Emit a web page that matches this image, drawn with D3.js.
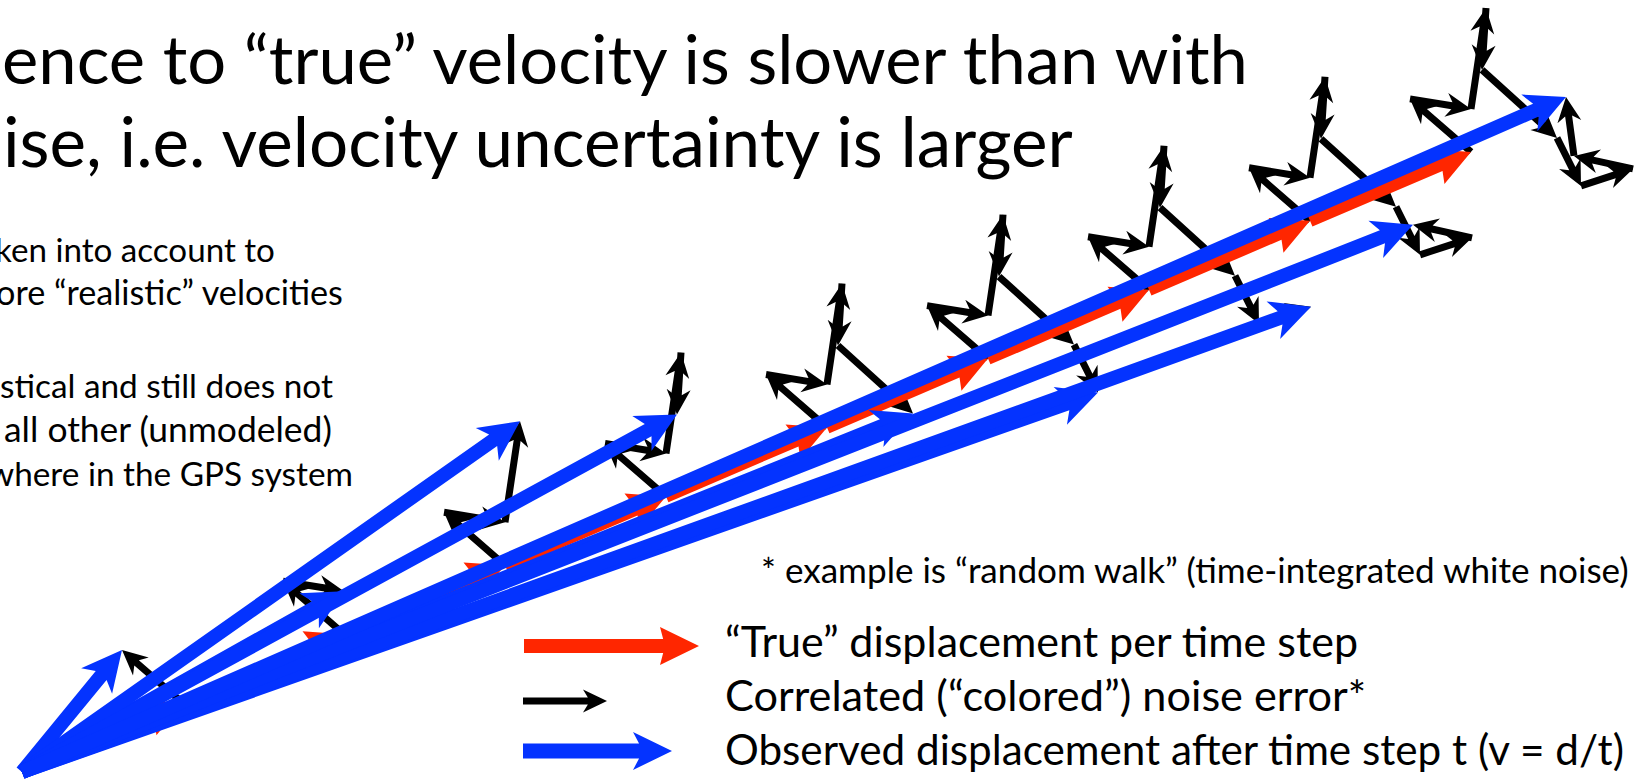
<!DOCTYPE html>
<html>
<head>
<meta charset="utf-8">
<script src="https://cdn.jsdelivr.net/npm/d3@7"></script>
<style>
  body { margin: 0; background: #fff; overflow: hidden; }
  svg { display: block; }
  text { font-family: Lato, "Open Sans", sans-serif; fill: #000; }
</style>
</head>
<body>
<svg id="chart" width="1640" height="780"></svg>
<script>
// "true" displacement per time step (east, north), diagram units
const trueStep = [16.1, 6.89]
const nSteps = 9

// increments of the random walk noise (east, north), one per time step
const noiseEast  = [-6.1,  6.1,  1.5, -0.4,  7.5,  2.4, 5.2, -5.9, -0.8]
const noiseNorth = [ 5.3, -1.0, 10.1, -6.2, -6.8, -4.8, 1.7,  1.3,  5.9]

const titleLines = [
  "ence to \u201ctrue\u201d velocity is slower than with",
  "ise, i.e. velocity uncertainty is larger"
]
const bodyLines = [
  "ken into account to",
  "ore \u201crealistic\u201d velocities",
  "stical and still does not",
  "all other (unmodeled)",
  "where in the GPS system"
]
const footnote = "* example is \u201crandom walk\u201d (time-integrated white noise)"
const legendLabels = [
  "\u201cTrue\u201d displacement per time step",
  "Correlated (\u201ccolored\u201d) noise error*",
  "Observed displacement after time step t (v = d/t)"
]

const RED = "#ff2600", BLUE = "#0433ff", BLACK = "#000"

const svg = d3.select("#chart")

// diagram units -> pixels (north up)
const x = d3.scaleLinear().domain([0, 160]).range([22, 1622])
const y = d3.scaleLinear().domain([0, 80]).range([772, -28])

// arrow outline: shaft + notched head
function arrowPts(x0, y0, x1, y1, s) {
  const dx = x1 - x0, dy = y1 - y0, len = Math.hypot(dx, dy)
  const ux = dx / len, uy = dy / len, nx = -uy, ny = ux
  const h = s.w / 2
  const back = s.L - s.notch * (s.hw - h) / s.hw
  const P = (a, b) => [x1 + ux * a + nx * b, y1 + uy * a + ny * b]
  return [[x0 + nx * h, y0 + ny * h], P(-back, h), P(-s.L, s.hw), [x1, y1],
          P(-s.L, -s.hw), P(-back, -h), [x0 - nx * h, y0 - ny * h]]
}
const line = d3.line()
function drawArrow(g, x0, y0, x1, y1, s, color) {
  g.append("path")
    .attr("d", line(arrowPts(x0, y0, x1, y1, s)) + "Z")
    .attr("fill", color)
}

const redStyle   = {w: 12.5, L: 37, hw: 19, notch: 5}
const blackStyle = {w: 7,  L: 25, hw: 12, notch: 8}
const blueStyle  = {w: 14, L: 40, hw: 20, notch: 11}

// positions along the true track and the observed ends
const steps = d3.range(1, nSteps + 1)
const truePos = steps.map(i => [trueStep[0] * i, trueStep[1] * i])

const gBlack = svg.append("g")
const gRed = svg.append("g")
const gBlue = svg.append("g")

const observed = []
steps.forEach((i, k) => {
  // red: one true step
  const p0 = k === 0 ? [0, 0] : truePos[k - 1]
  const p1 = truePos[k]
  drawArrow(gRed, x(p0[0]), y(p0[1]), x(p1[0]), y(p1[1]), redStyle, RED)

  // black: chain of noise increments w1..wi from the true position
  let cx = p1[0], cy = p1[1]
  for (let j = 0; j < i; j++) {
    const nx = cx + noiseEast[j], ny = cy + noiseNorth[j]
    drawArrow(gBlack, x(cx), y(cy), x(nx), y(ny), blackStyle, BLACK)
    cx = nx; cy = ny
  }
  observed.push([cx, cy])
})

// blue: observed displacement from the start
observed.forEach(o => {
  drawArrow(gBlue, x(0), y(0), x(o[0]), y(o[1]), blueStyle, BLUE)
})

// ---- text ----
const gText = svg.append("g")

// fitW: set the font size so the line spans that many pixels
function addText(str, px, py, size, anchor, fitW) {
  const t = gText.append("text")
    .attr("x", px).attr("y", py)
    .attr("text-anchor", anchor)
    .attr("font-size", size)
    .text(str)
  if (fitW) {
    const w = t.node().getComputedTextLength()
    t.attr("font-size", size * fitW / w)
  }
  return t
}

const titleStart = [2, 3], titleWidth = [1246, 1070], titleBase = [84, 167]
titleLines.forEach((t, i) => addText(t, titleStart[i], titleBase[i], 73, "start", titleWidth[i]))

// body lines are cut at the left edge of the slide
const bodyStart = [-5, -4, 0, 4, -12], bodyEnds = [275, 343, 333, 332, 353]
const bodyBase = [262, 305, 398, 442, 486]
bodyLines.forEach((t, i) =>
  addText(t, bodyStart[i], bodyBase[i], 37, "start", bodyEnds[i] - bodyStart[i]))

addText(footnote, 761, 583, 37, "start", 868)

const legendBase = [657, 711, 765], legendWidth = [633, 641, 899]
legendLabels.forEach((t, i) => addText(t, 725, legendBase[i], 44.9, "start", legendWidth[i]))

// legend arrows
drawArrow(svg, 524, 646, 699, 646, {w: 14, L: 39, hw: 19, notch: 5}, RED)
drawArrow(svg, 523, 701, 607, 701, {w: 7, L: 24, hw: 11.5, notch: 7}, BLACK)
drawArrow(svg, 523, 751, 672, 751, {w: 15, L: 39, hw: 19, notch: 10}, BLUE)
</script>
</body>
</html>
